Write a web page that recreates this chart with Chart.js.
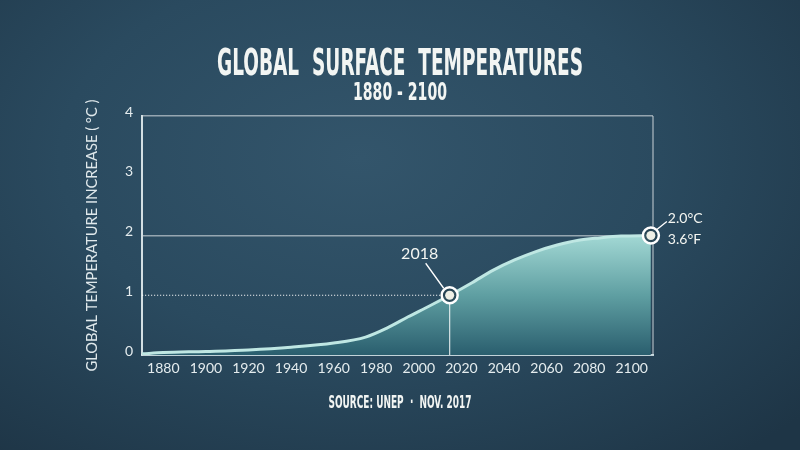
<!DOCTYPE html>
<html>
<head>
<meta charset="utf-8">
<title>Global Surface Temperatures</title>
<script src="https://cdn.jsdelivr.net/npm/chart.js@4.4.1/dist/chart.umd.min.js"></script>
<style>
  html, body { margin: 0; padding: 0; }
  body {
    width: 800px; height: 450px; overflow: hidden;
    background: radial-gradient(ellipse 75% 85% at 45% 35%, #33556b 0%, #2a4a5f 50%, #1e3546 100%);
  }
</style>
</head>
<body>
<canvas id="tempChart" width="800" height="450"></canvas>
<script>
// values
const years    = [1870, 1880, 1900, 1920, 1940, 1960, 1975, 1985, 1995, 2005, 2014.5, 2025, 2035, 2045, 2055, 2065, 2075, 2085, 2095, 2109];
const tempRise = [0.02, 0.04, 0.06, 0.085, 0.13, 0.2, 0.3, 0.45, 0.64, 0.82, 1.0, 1.21, 1.42, 1.59, 1.73, 1.84, 1.92, 1.96, 1.99, 2.0];
const xTicks   = [1880, 1900, 1920, 1940, 1960, 1980, 2000, 2020, 2040, 2060, 2080, 2100];
const yTicks   = [0, 1, 2, 3, 4];
const markYears  = [2014.5, 2109];
const markValues = [1.0, 2.0];
const markLabel  = '2018';
const endLabels  = ['2.0°C', '3.6°F'];

const titleText = 'GLOBAL  SURFACE  TEMPERATURES';
const subText   = '1880 - 2100';
const srcText   = 'SOURCE: UNEP  ·  NOV. 2017';
const yTitle    = 'GLOBAL TEMPERATURE INCREASE ( °C )';

const narrow = "'Liberation Sans Narrow', 'DejaVu Sans Condensed', 'Liberation Sans', sans-serif";
const round  = "Lato, 'Open Sans', sans-serif";

// draw text squeezed or stretched to a given width
function fitText(ctx, text, cx, cy, width) {
    const w = ctx.measureText(text).width;
    ctx.save();
    ctx.translate(cx, cy);
    ctx.scale(width / w, 1);
    ctx.textAlign = 'center';
    ctx.fillText(text, 0, 0);
    ctx.restore();
}

function ring(ctx, x, y) {
    ctx.beginPath();
    ctx.arc(x, y, 8, 0, Math.PI * 2);
    ctx.fillStyle = 'rgba(38,66,82,0.9)';
    ctx.fill();
    ctx.lineWidth = 2.5;
    ctx.strokeStyle = '#ffffff';
    ctx.stroke();
    ctx.beginPath();
    ctx.arc(x, y, 4.5, 0, Math.PI * 2);
    ctx.fillStyle = '#eeefe6';
    ctx.fill();
}

const overlay = {
    id: 'overlay',
    beforeDraw(chart) {
        const { ctx, chartArea: a } = chart;
        ctx.save();
        ctx.fillStyle = '#f2f5f3';
        ctx.textBaseline = 'alphabetic';
        ctx.font = 'bold 38px ' + narrow;
        fitText(ctx, titleText, 400, 75, 366);
        ctx.font = 'bold 24px ' + narrow;
        fitText(ctx, subText, 400, 100, 94);
        ctx.font = 'bold 17px ' + narrow;
        fitText(ctx, srcText, 400, 408, 143);

        // y axis title
        ctx.fillStyle = '#dfe8eb';
        ctx.font = '16px ' + round;
        ctx.textBaseline = 'middle';
        ctx.save();
        ctx.translate(92, (a.top + a.bottom) / 2);
        ctx.rotate(-Math.PI / 2);
        fitText(ctx, yTitle, 0, 0, 272);
        ctx.restore();

        // right frame line
        ctx.strokeStyle = 'rgba(255,255,255,0.5)';
        ctx.lineWidth = 1.5;
        ctx.beginPath();
        ctx.moveTo(a.right, a.top);
        ctx.lineTo(a.right, a.bottom);
        ctx.stroke();
        ctx.restore();
    },
    afterDatasetsDraw(chart) {
        const { ctx, chartArea: a, scales: { x, y } } = chart;
        const px = x.getPixelForValue(markYears[0]);
        const py = y.getPixelForValue(markValues[0]);
        const ex = x.getPixelForValue(markYears[1]);
        const ey = y.getPixelForValue(markValues[1]);
        ctx.save();

        // dotted line to the 2018 point
        ctx.strokeStyle = 'rgba(255,255,255,0.9)';
        ctx.lineWidth = 1.2;
        ctx.setLineDash([1.2, 1.8]);
        ctx.beginPath();
        ctx.moveTo(a.left, py);
        ctx.lineTo(px - 8, py);
        ctx.stroke();
        ctx.setLineDash([]);

        // vertical line down from it
        ctx.strokeStyle = 'rgba(255,255,255,0.8)';
        ctx.lineWidth = 1.2;
        ctx.beginPath();
        ctx.moveTo(px, py + 8);
        ctx.lineTo(px, a.bottom);
        ctx.stroke();

        // leaders
        ctx.strokeStyle = '#ffffff';
        ctx.lineWidth = 1.3;
        ctx.beginPath();
        ctx.moveTo(px - 24, py - 32);
        ctx.lineTo(px - 6, py - 7);
        ctx.moveTo(ex + 6, ey - 6);
        ctx.lineTo(ex + 16, ey - 14);
        ctx.stroke();

        ring(ctx, px, py);
        ring(ctx, ex, ey);

        ctx.fillStyle = '#f4f6f2';
        ctx.textBaseline = 'middle';
        ctx.font = '16px ' + round;
        ctx.textAlign = 'center';
        ctx.fillText(markLabel, px - 30, py - 41);
        ctx.font = '14px ' + round;
        ctx.textAlign = 'left';
        ctx.fillText(endLabels[0], ex + 17, ey - 17);
        ctx.fillText(endLabels[1], ex + 17, ey + 4);
        ctx.restore();
    }
};

const ctx = document.getElementById('tempChart').getContext('2d');
const tempChart = new Chart(ctx, {
    type: 'line',
    data: {
        datasets: [{
            data: years.map((yr, i) => ({ x: yr, y: tempRise[i] })),
            borderColor: '#bfe7e3',
            borderWidth: 3,
            pointRadius: 0,
            cubicInterpolationMode: 'monotone',
            fill: 'origin',
            backgroundColor: (c) => {
                const { chartArea, scales } = c.chart;
                if (!chartArea) return 'rgba(120,190,190,0.6)';
                const g = c.chart.ctx.createLinearGradient(0, scales.y.getPixelForValue(2), 0, chartArea.bottom);
                g.addColorStop(0, '#a2d8d4');
                g.addColorStop(0.5, '#5f9fa2');
                g.addColorStop(1, '#2a5e6e');
                return g;
            }
        }]
    },
    options: {
        responsive: false,
        animation: false,
        devicePixelRatio: 1,
        layout: { padding: { left: 0, top: 116, right: 147, bottom: 0 } },
        plugins: {
            legend: { display: false },
            tooltip: { enabled: false }
        },
        scales: {
            x: {
                type: 'linear',
                min: 1870,
                max: 2110,
                afterFit: (s) => { s.height = 95; },
                afterBuildTicks: (s) => { s.ticks = xTicks.map(v => ({ value: v })); },
                grid: { display: false, drawTicks: false },
                border: { display: true, color: 'rgba(220,235,238,0.85)', width: 2 },
                ticks: {
                    color: '#e4ecee',
                    padding: 5,
                    maxRotation: 0,
                    autoSkip: false,
                    font: { family: round, size: 14 },
                    callback: (v) => String(v)
                }
            },
            y: {
                min: 0,
                max: 4,
                afterFit: (s) => { s.width = 142; },
                afterBuildTicks: (s) => { s.ticks = yTicks.map(v => ({ value: v })); },
                grid: {
                    drawTicks: false,
                    lineWidth: 1.5,
                    color: (c) => (c.tick && (c.tick.value === 2 || c.tick.value === 4)) ? 'rgba(255,255,255,0.5)' : 'rgba(0,0,0,0)'
                },
                border: { display: true, color: 'rgba(230,240,242,0.9)', width: 2 },
                ticks: {
                    color: '#e4ecee',
                    padding: 9,
                    labelOffset: -4,
                    font: { family: round, size: 14 }
                }
            }
        }
    },
    plugins: [overlay]
});
</script>
</body>
</html>
